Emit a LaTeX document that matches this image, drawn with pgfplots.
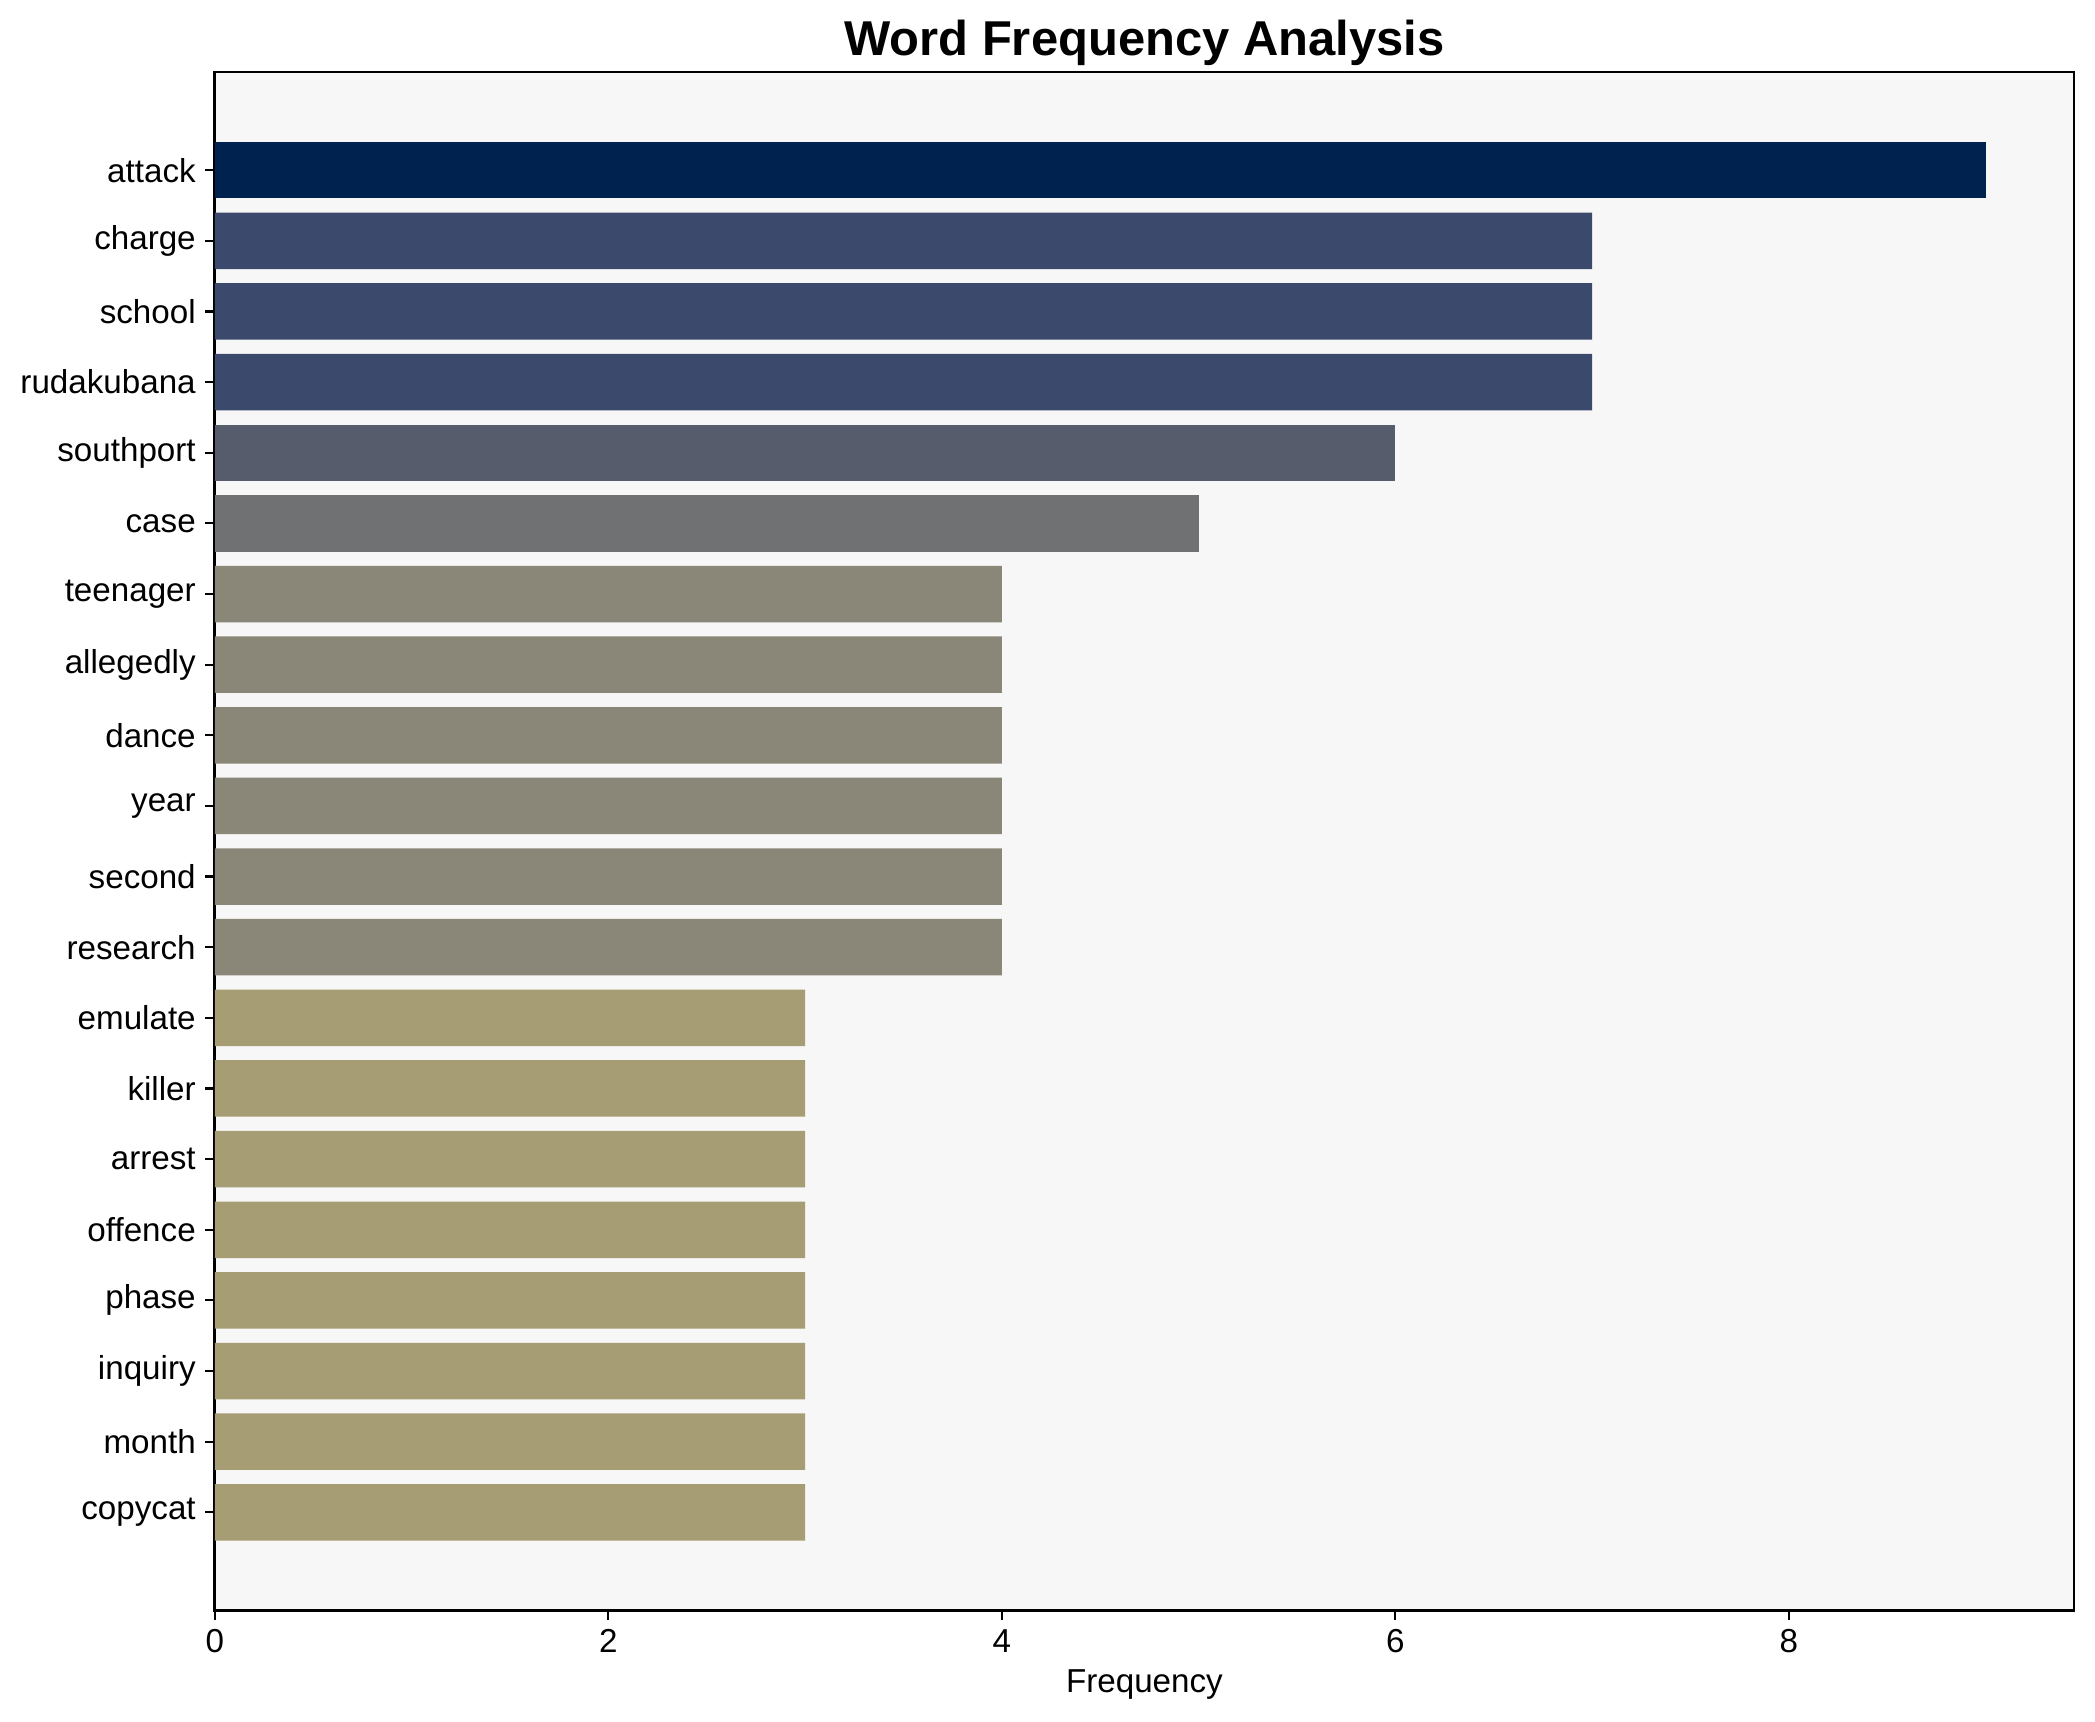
\documentclass[border=0pt]{standalone}
\usepackage{fontspec}
\setmainfont{Liberation Sans}
\usepackage{pgfplots}
\pgfplotsset{compat=1.18}

\definecolor{bgax}{HTML}{F7F7F7}
\definecolor{cnine}{HTML}{00224E}
\definecolor{cseven}{HTML}{3B496C}
\definecolor{csix}{HTML}{575C6D}
\definecolor{cfive}{HTML}{707173}
\definecolor{cfour}{HTML}{8A8779}
\definecolor{cthree}{HTML}{A69D75}

\begin{document}
\begin{tikzpicture}[x=1bp,y=1bp]
    \begin{axis}[
        name=ax,
        at={(0,0)}, anchor=south west,
        scale only axis,
        width=683.8bp,
        height=565.8bp,
        xbar,
        every axis plot/.append style={bar shift=0pt, bar width=0.8, draw=none},
        xmin=0, xmax=9.45,
        ymin=-1.39, ymax=20.39,
        y dir=reverse,
        axis background/.style={fill=bgax},
        axis line style={line width=1bp},
        xtick={0,2,4,6,8},
        ytick={0,...,19},
        yticklabels={attack,charge,school,rudakubana,southport,case,teenager,allegedly,dance,year,second,research,emulate,killer,arrest,offence,phase,inquiry,month,copycat},
        tick align=outside,
        tick pos=left,
        major tick length=3.5bp,
        every tick/.style={black, line width=0.8bp},
        /pgf/number format/assume math mode=true,
        ticklabel style={font=\fontsize{12.2bp}{14bp}\selectfont},
        xlabel={Frequency},
        xlabel style={font=\fontsize{12.2bp}{14bp}\selectfont, at={(axis description cs:0.5,0)}, anchor=base, yshift=-30bp},
    ]
        \addplot[fill=cnine] coordinates {(9,0)};
        \addplot[fill=cseven] coordinates {(7,1) (7,2) (7,3)};
        \addplot[fill=csix] coordinates {(6,4)};
        \addplot[fill=cfive] coordinates {(5,5)};
        \addplot[fill=cfour] coordinates {(4,6) (4,7) (4,8) (4,9) (4,10) (4,11)};
        \addplot[fill=cthree] coordinates {(3,12) (3,13) (3,14) (3,15) (3,16) (3,17) (3,18) (3,19)};
    \end{axis}
    \node[anchor=base, font=\bfseries\fontsize{18bp}{21bp}\selectfont] at (341.9,572.0) {Word Frequency Analysis};
    \pgfresetboundingbox
    \useasboundingbox (-79,-40.8) rectangle (691.5,592.3);
\end{tikzpicture}
\end{document}
